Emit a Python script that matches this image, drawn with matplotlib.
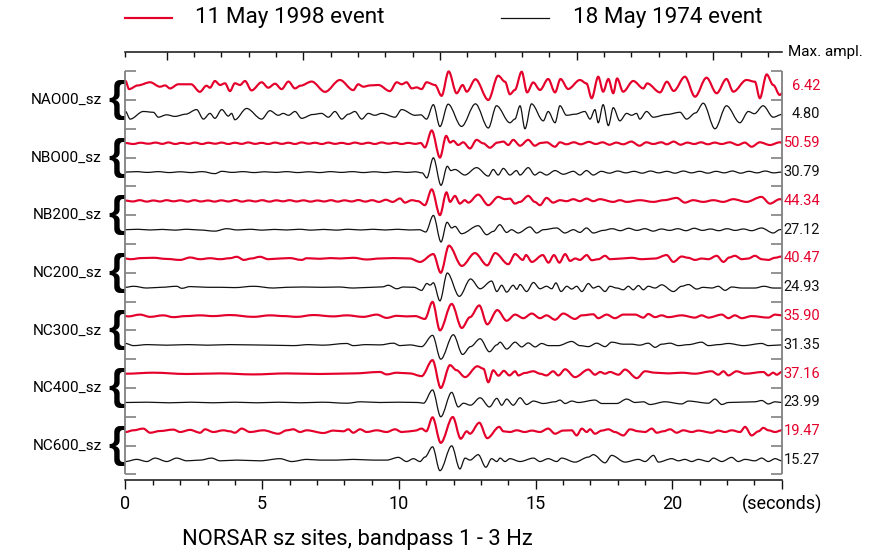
import numpy as np
import matplotlib
matplotlib.use("Agg")
import matplotlib.pyplot as plt
from matplotlib.path import Path
from matplotlib.patches import PathPatch
from matplotlib.lines import Line2D
from matplotlib.ticker import FixedLocator

plt.rcParams["font.family"] = ["Roboto", "DejaVu Sans"]

# ---------------------------------------------------------------- data
STATIONS = ["NAO00_sz", "NBO00_sz", "NB200_sz", "NC200_sz", "NC300_sz", "NC400_sz", "NC600_sz"]
EVENTS = ["11 May 1998 event", "18 May 1974 event"]
MAX_1998 = [6.42, 50.59, 44.34, 40.47, 35.90, 37.16, 19.47]
MAX_1974 = [4.80, 30.79, 27.12, 24.93, 31.35, 23.99, 15.27]
TICK_SECONDS = [0, 5, 10, 15, 20, 24]
TICK_LABELS = ["0", "5", "10", "15", "20", "(seconds)"]
TITLE = "NORSAR sz sites, bandpass 1 - 3 Hz"

# Seismogram turning points: time (s) and relative amplitude
NAO00_1998_T = [0.00,0.13,0.45,0.90,1.26,1.45,1.63,1.93,2.40,2.72,2.96,3.09,3.27,3.46,3.64,3.82,4.00,4.19,4.37,4.61,
                4.98,5.22,5.47,5.71,5.96,6.20,6.40,6.81,7.30,7.84,8.33,8.51,8.70,8.95,9.25,9.67,9.92,10.10,10.28,10.47,
                10.65,10.83,11.01,11.32,11.56,11.82,12.11,12.33,12.48,12.80,13.27,13.63,13.88,14.06,14.24,14.49,14.69,14.91,15.16,15.46,
                15.71,15.91,16.19,16.62,16.86,17.05,17.29,17.47,17.66,17.84,17.98,18.20,18.57,18.94,19.08,19.55,19.80,20.05,20.46,20.83,
                21.25,21.62,21.98,22.23,22.71,23.02,23.20,23.45,23.69,23.93,24.00]
NAO00_1998_A = [0.33,-0.24,0.02,0.24,-0.07,0.02,-0.19,0.10,0.10,-0.43,0.00,-0.14,0.33,0.05,0.17,-0.38,0.17,0.05,0.33,-0.33,
                0.24,-0.14,0.14,-0.24,0.29,-0.19,0.00,0.29,-0.43,0.40,-0.31,0.10,-0.07,0.02,0.05,-0.38,0.24,0.10,0.24,-0.19,
                -0.12,-0.24,0.24,0.05,-0.71,1.00,-0.53,0.05,-0.42,0.45,-1.00,0.70,0.28,-0.60,-0.30,0.98,-0.47,0.23,-0.30,0.47,
                -0.47,0.47,-0.23,0.40,0.16,-0.88,0.63,-0.42,0.47,-0.53,0.51,-0.42,0.33,-0.19,0.16,-0.47,0.28,-0.37,0.63,-0.77,
                0.56,-0.53,0.47,-0.42,0.40,0.28,-0.88,0.79,0.05,-0.65,-0.55]

NAO00_1974_T = [0.00,0.17,0.65,1.02,1.20,1.50,1.81,2.20,2.60,2.85,3.09,3.27,3.52,3.76,3.88,4.00,4.43,4.98,5.28,5.59,
                5.77,5.96,6.20,6.44,6.85,7.17,7.42,7.66,7.91,8.15,8.39,8.64,8.88,9.12,9.37,9.86,10.10,10.59,10.80,11.01,
                11.26,11.50,11.80,12.29,12.80,13.27,13.57,14.06,14.24,14.43,14.61,14.85,15.28,15.46,15.71,15.89,16.13,16.45,16.80,16.99,
                17.17,17.29,17.47,17.66,17.84,18.08,18.33,18.51,18.69,18.81,19.06,19.30,19.80,20.28,20.52,20.85,21.13,21.56,21.98,22.47,
                22.78,23.00,23.32,23.69,24.00]
NAO00_1974_A = [0.19,-0.29,0.19,0.14,-0.17,-0.02,-0.12,0.02,0.31,-0.29,0.07,-0.24,0.31,-0.10,0.07,-0.33,0.38,-0.29,0.24,-0.05,
                0.07,-0.05,0.19,-0.24,0.00,0.07,-0.17,0.19,-0.29,0.02,0.19,-0.29,0.07,-0.05,0.07,-0.17,0.31,-0.05,-0.02,-0.29,
                0.62,-0.76,0.65,-0.75,0.67,-0.85,0.55,-0.52,-0.29,0.55,-0.90,0.67,-0.40,0.19,-0.52,0.55,-0.05,0.02,0.19,-0.29,
                0.31,-0.52,0.62,-0.70,0.43,-0.40,0.07,-0.05,0.07,-0.29,0.19,-0.17,0.00,0.14,-0.29,0.10,0.71,-0.90,0.55,-0.52,
                0.19,0.05,0.55,-0.17,0.00]

NBO00_1998_T = [0.00,0.28,0.55,0.84,1.10,1.35,1.57,1.82,2.05,2.30,2.54,2.80,3.03,3.28,3.52,3.76,4.00,4.25,4.49,4.74,
                4.98,5.22,5.47,5.72,5.96,6.20,6.44,6.70,6.93,7.18,7.42,7.66,7.91,8.15,8.39,8.64,8.88,9.12,9.37,9.62,
                9.86,10.10,10.34,10.60,10.80,
                10.95,11.20,11.50,11.73,11.87,11.99,12.17,12.35,12.60,12.84,13.08,13.33,13.60,13.82,14.00,14.18,14.43,14.73,14.97,15.18,
                15.40,15.71,15.89,16.13,16.40,16.65,16.95,17.20,17.45,17.70,17.95,18.20,18.50,18.80,19.05,19.30,19.60,19.80,20.05,20.30,
                20.55,20.80,21.05,21.30,21.55,21.80,22.10,22.40,22.65,22.90,23.20,23.57,23.93,24.00]
NBO00_1998_A = [0.02,-0.05,0.04,-0.03,0.05,-0.04,0.06,-0.05,0.03,-0.04,0.05,-0.05,0.04,-0.03,0.05,-0.05,0.04,-0.04,0.06,-0.04,
                0.03,-0.05,0.05,-0.04,0.04,-0.05,0.06,-0.03,0.04,-0.05,0.05,-0.04,0.03,-0.05,0.05,-0.04,0.04,-0.05,0.06,-0.03,
                0.04,-0.05,0.03,-0.04,0.02,
                -0.29,0.90,-1.00,0.52,0.05,0.17,-0.12,0.07,-0.36,0.24,0.00,-0.31,0.05,0.12,-0.12,0.24,-0.17,0.24,-0.17,0.02,
                0.07,-0.24,0.07,-0.07,0.07,-0.07,0.10,-0.05,0.07,-0.10,0.05,-0.07,0.12,-0.17,0.07,-0.05,0.07,-0.07,0.12,-0.10,
                0.05,-0.05,0.07,-0.07,0.05,-0.05,0.07,-0.12,0.05,-0.24,0.07,-0.12,0.07,0.05]

NBO00_1974_T = [0.00,0.40,0.80,1.20,1.60,2.00,2.40,2.80,3.27,3.52,3.90,4.30,4.70,5.10,5.50,5.90,6.30,6.70,7.10,7.50,
                7.90,8.30,8.70,9.10,9.50,9.90,10.30,10.60,
                10.85,11.02,11.26,11.54,11.77,11.90,12.05,12.41,12.84,13.27,13.45,13.63,13.82,14.06,14.30,14.43,14.73,14.97,15.16,15.40,
                15.71,16.01,16.38,16.62,16.86,17.11,17.40,17.70,18.00,18.30,18.60,18.90,19.20,19.50,19.80,20.10,20.40,20.70,21.00,21.30,
                21.60,21.90,22.20,22.50,22.80,23.10,23.40,23.70,24.00]
NBO00_1974_A = [0.00,0.03,-0.02,0.03,-0.03,0.02,-0.03,0.03,-0.10,0.05,-0.02,0.03,-0.03,0.02,-0.02,0.03,-0.03,0.02,-0.03,0.03,
                -0.02,0.03,-0.03,0.02,-0.03,0.03,-0.02,0.02,
                -0.05,-0.38,0.93,-0.86,0.38,0.10,0.17,-0.19,0.29,-0.26,0.17,-0.19,0.24,-0.19,0.10,-0.19,0.29,-0.19,0.00,-0.19,
                0.10,-0.14,0.05,-0.19,0.10,-0.19,0.05,-0.07,0.07,-0.05,0.05,-0.07,0.07,-0.05,0.05,-0.07,0.07,-0.05,0.05,-0.07,
                0.05,-0.05,0.07,-0.07,0.05,-0.05,0.07,-0.05,0.00]

NB200_1998_T = [0.00,0.27,0.52,0.78,1.02,1.27,1.50,1.76,2.01,2.27,2.52,2.76,3.02,3.26,3.50,3.77,4.02,4.26,4.51,4.75,
                5.00,5.26,5.52,5.76,6.00,6.26,6.51,6.77,7.02,7.27,7.52,7.76,8.01,8.27,8.52,8.77,9.02,9.27,9.52,9.77,
                10.04,10.22,10.47,10.70,
                10.95,11.20,11.50,11.74,11.87,12.05,12.23,12.41,12.54,12.90,13.27,13.63,13.88,14.06,14.24,14.43,14.73,14.97,15.16,15.40,
                15.64,15.89,16.13,16.38,16.62,16.86,17.11,17.35,17.84,18.08,18.33,18.81,19.30,19.70,20.16,20.46,20.76,21.13,21.50,21.86,
                22.23,22.71,23.26,23.57,23.93,24.00]
NB200_1998_A = [0.02,-0.04,0.05,-0.05,0.03,-0.04,0.05,-0.03,0.04,-0.05,0.05,-0.04,0.03,-0.05,0.04,-0.04,0.06,-0.05,0.03,-0.04,
                0.05,-0.05,0.04,-0.03,0.05,-0.04,0.04,-0.05,0.03,-0.04,0.05,-0.05,0.04,-0.04,0.06,-0.05,0.05,-0.07,0.08,-0.07,
                0.17,-0.12,0.05,-0.02,
                -0.30,0.81,-1.00,0.60,-0.07,0.35,-0.19,0.05,-0.12,0.44,-0.30,0.28,0.12,0.16,-0.19,-0.07,0.35,-0.07,-0.30,0.21,
                -0.12,0.05,-0.02,0.12,-0.02,0.16,-0.02,0.12,-0.07,0.05,-0.07,0.05,-0.07,0.05,0.21,-0.12,0.05,-0.07,0.05,-0.07,
                0.12,-0.07,0.28,-0.19,0.12,0.10]

NB200_1974_T = [0.00,0.45,0.90,1.35,1.80,2.25,2.70,3.27,3.70,4.10,4.55,5.00,5.45,5.90,6.35,6.80,7.25,7.70,8.15,8.60,
                9.05,9.50,9.95,10.40,10.75,
                10.98,11.26,11.54,11.76,11.93,12.05,12.29,12.90,13.21,13.45,13.69,13.94,14.12,14.36,14.79,15.04,15.28,15.77,16.07,16.38,
                16.62,16.86,17.11,17.47,17.80,18.10,18.40,18.70,19.00,19.30,19.60,19.90,20.20,20.50,20.80,21.10,21.40,21.70,22.00,22.30,
                22.60,22.90,23.26,23.69,23.93,24.00]
NB200_1974_A = [0.00,0.03,-0.02,0.02,-0.03,0.03,-0.02,-0.10,0.07,-0.02,0.03,-0.03,0.02,-0.02,0.03,-0.03,0.02,-0.03,0.03,-0.02,
                0.03,-0.02,0.03,-0.02,0.00,
                -0.16,1.00,-0.86,0.52,0.12,0.23,-0.28,0.28,-0.35,-0.12,0.35,-0.19,0.00,-0.23,0.19,-0.23,0.00,0.12,-0.23,0.00,
                -0.19,0.12,-0.23,-0.05,0.07,-0.07,0.10,-0.05,0.07,-0.10,0.05,-0.05,0.07,-0.07,0.10,-0.05,0.05,-0.07,0.07,-0.05,
                0.05,-0.07,0.12,-0.23,0.00,0.02]

NC200_1998_T = [0.00,0.17,0.60,1.02,1.50,2.00,2.36,2.73,3.09,3.46,3.82,4.07,4.33,4.60,4.92,5.22,5.65,6.00,6.44,6.63,
                7.11,7.50,7.85,8.33,8.82,9.31,9.80,10.40,10.77,11.26,11.53,11.83,12.30,12.78,13.23,13.52,14.00,14.25,14.53,14.65,
                14.86,15.26,15.47,15.67,15.87,16.08,16.26,16.45,16.62,16.87,17.05,17.30,17.54,17.72,18.15,18.51,18.88,19.37,19.79,20.04,
                20.34,20.58,20.83,21.08,21.32,21.62,21.87,22.08,22.29,22.54,22.78,23.02,23.27,23.51,23.75,24.00]
NC200_1998_A = [0.00,-0.05,0.03,0.05,-0.03,-0.10,0.07,-0.05,0.02,-0.05,0.02,0.12,-0.10,0.00,0.12,-0.05,0.00,0.03,-0.10,0.02,
                -0.02,0.03,0.00,0.05,-0.07,0.00,0.03,0.00,-0.24,0.31,-1.00,0.90,-0.52,0.38,-0.48,0.38,-0.40,0.31,-0.10,0.24,
                -0.24,0.24,-0.29,0.24,-0.29,0.31,-0.17,0.00,-0.10,0.24,-0.12,-0.05,0.19,-0.05,0.00,0.05,-0.05,0.00,0.24,-0.24,
                0.14,0.05,-0.10,0.00,-0.05,0.19,-0.24,0.07,0.19,-0.05,0.00,0.19,-0.05,-0.10,0.05,0.14]

NC200_1974_T = [0.00,0.29,0.78,1.30,1.87,2.06,2.36,3.00,3.46,4.00,4.68,5.41,5.90,6.50,7.20,7.80,8.33,9.00,9.40,9.61,
                9.92,10.16,10.55,10.83,11.02,11.14,11.26,11.50,11.77,12.21,12.62,12.97,13.39,13.58,13.76,13.94,14.18,14.31,14.43,14.67,
                14.92,15.16,15.40,15.59,15.74,15.93,16.14,16.32,16.50,16.69,16.93,17.11,17.30,17.54,17.72,17.97,18.21,18.39,18.57,18.76,
                18.94,19.12,19.37,19.61,20.04,20.34,20.59,20.89,21.13,21.44,21.68,21.93,22.17,22.54,23.02,23.35,23.70,24.00]
NC200_1974_A = [0.00,0.07,-0.05,0.00,0.07,-0.07,0.05,0.00,0.00,-0.02,0.07,-0.05,0.00,0.02,0.00,0.02,-0.05,0.00,0.03,0.14,
                -0.10,0.02,0.00,-0.21,0.26,0.15,0.31,-0.93,0.98,-0.62,0.57,-0.10,0.43,-0.29,0.14,-0.33,0.14,-0.14,0.19,-0.29,
                0.33,-0.10,0.07,-0.10,0.30,-0.29,0.07,-0.12,0.07,-0.29,0.26,-0.05,0.07,-0.29,0.07,-0.05,-0.17,0.07,-0.17,0.12,
                -0.17,0.07,-0.05,0.17,-0.29,0.07,0.19,-0.12,0.00,-0.05,0.07,-0.21,0.02,-0.05,-0.05,0.07,-0.05,-0.05]

NC300_1998_T = [0.00,0.10,0.53,0.90,1.38,1.75,2.20,2.73,3.20,3.82,4.68,5.29,5.80,6.26,6.87,7.60,8.09,8.70,9.19,9.55,
                9.92,10.28,10.60,10.95,11.23,11.50,11.93,12.30,12.60,12.94,13.23,13.60,13.94,14.25,14.55,14.86,15.16,15.40,15.71,16.01,
                16.44,16.69,17.11,17.29,17.60,17.90,18.21,18.64,18.94,19.12,19.37,19.61,19.85,20.34,20.83,21.07,21.32,21.81,22.05,22.29,
                22.54,22.90,23.51,23.76,24.00]
NC300_1998_A = [0.00,-0.02,0.10,-0.05,0.05,-0.07,0.00,0.05,0.00,0.07,-0.05,0.05,0.00,-0.05,0.07,-0.02,0.05,-0.05,0.10,-0.12,
                0.02,-0.02,0.00,-0.19,0.95,-0.95,0.81,-0.79,-0.07,0.71,-0.55,0.40,-0.31,0.10,-0.14,0.17,-0.14,0.05,-0.24,0.17,
                -0.19,0.05,0.12,-0.14,0.10,-0.14,0.10,0.10,-0.10,0.14,-0.07,0.05,-0.07,0.05,-0.10,0.05,-0.10,0.10,-0.14,0.05,
                -0.14,0.00,-0.10,0.10,0.05]

NC300_1974_T = [0.00,0.29,0.80,1.50,2.30,3.00,3.80,4.60,5.30,6.14,6.70,7.20,8.09,8.33,8.80,9.30,9.80,10.04,10.40,10.83,
                11.23,11.53,11.99,12.33,12.62,12.97,13.31,13.58,13.70,13.94,14.25,14.49,14.73,14.98,15.22,15.47,15.83,16.32,16.62,16.93,
                17.23,17.54,17.78,18.21,18.51,18.80,19.12,19.37,19.61,19.92,20.22,20.60,21.07,21.32,21.70,22.05,22.60,23.27,23.51,24.00]
NC300_1974_A = [0.10,-0.05,0.02,-0.02,0.02,-0.02,0.02,0.00,-0.02,-0.05,0.02,-0.02,0.10,-0.05,0.02,0.00,0.12,-0.05,0.00,-0.12,
                0.67,-1.00,0.71,-0.67,-0.12,0.43,-0.48,0.00,0.19,-0.29,0.19,-0.14,0.14,-0.14,0.10,-0.05,-0.05,0.24,-0.05,-0.12,
                0.12,-0.12,0.19,0.05,0.05,-0.02,0.12,-0.17,0.05,0.12,-0.05,0.02,0.19,-0.05,0.02,0.10,-0.05,0.10,-0.05,0.00]

NC400_1998_T = [0.00,1.02,2.24,3.46,4.68,5.90,7.11,8.33,9.31,9.55,9.92,10.40,10.83,11.23,11.53,11.87,12.10,12.42,12.87,13.09,
                13.27,13.45,13.64,13.84,14.04,14.25,14.37,14.60,14.92,15.16,15.40,15.64,15.83,16.08,16.44,16.93,17.17,17.36,17.54,17.72,
                18.03,18.27,18.70,19.00,19.37,19.85,20.34,20.83,21.44,21.68,21.87,22.05,22.35,22.66,23.33,23.51,23.69,23.82,24.00]
NC400_1998_A = [0.00,0.07,-0.02,0.02,-0.05,0.02,-0.02,0.02,0.12,-0.05,0.07,0.02,-0.17,0.95,-1.00,0.60,0.25,-0.24,0.52,0.35,
                -0.60,0.24,-0.14,0.20,-0.12,0.17,-0.12,0.05,0.17,0.00,-0.12,0.17,-0.12,0.31,-0.24,0.29,-0.07,0.12,0.00,0.12,
                -0.07,0.29,-0.31,0.17,0.07,0.02,0.07,0.00,0.17,-0.07,0.17,-0.12,0.17,0.00,0.12,-0.12,0.07,-0.07,0.12]

NC400_1974_T = [0.00,0.80,1.60,2.40,3.20,4.00,4.80,5.60,6.40,7.20,8.10,8.60,9.30,10.00,10.70,10.90,11.23,11.53,11.93,12.17,
                12.36,12.62,12.97,13.31,13.58,13.76,13.94,14.18,14.43,14.67,14.92,15.28,15.71,15.89,16.08,16.32,16.56,17.17,17.42,17.97,
                18.33,18.64,18.94,19.18,19.73,20.34,20.59,21.32,21.56,21.81,22.05,23.02,23.27,23.51,23.76,24.00]
NC400_1974_A = [0.00,0.02,-0.02,0.02,-0.02,0.02,-0.02,0.02,-0.02,0.02,-0.05,0.05,0.00,0.02,0.00,-0.05,0.88,-1.00,0.71,-0.31,
                -0.05,-0.19,0.33,-0.31,0.29,-0.19,0.24,-0.19,0.33,-0.14,0.10,-0.07,0.05,0.17,-0.07,0.10,0.00,0.17,-0.07,-0.07,
                0.24,0.00,0.05,-0.14,0.05,-0.10,0.10,-0.05,0.24,-0.14,0.00,0.05,0.14,-0.10,0.05,0.00]

NC600_1998_T = [0.00,0.29,0.65,0.90,1.26,1.75,2.00,2.36,2.73,2.91,3.21,3.58,3.82,4.00,4.25,4.55,5.04,5.59,5.90,6.14,
                6.38,6.63,7.24,7.60,7.97,8.15,8.33,8.58,8.82,9.19,9.55,9.86,10.10,10.40,10.60,10.83,11.00,11.23,11.53,11.97,
                12.26,12.48,12.60,12.94,13.23,13.67,13.82,14.06,14.31,14.60,14.86,15.16,15.46,15.71,16.00,16.32,16.50,16.69,16.87,16.99,
                17.17,17.42,17.66,17.90,18.21,18.45,18.76,19.00,19.25,19.43,19.67,19.92,20.16,20.40,20.71,20.95,21.44,21.68,21.93,22.17,
                22.48,22.66,22.90,23.15,23.33,23.51,23.76,24.00]
NC600_1998_A = [-0.05,0.07,0.19,-0.10,0.02,0.12,-0.05,0.10,-0.10,0.14,-0.05,0.07,0.00,-0.10,0.19,-0.05,0.07,-0.17,0.07,0.14,
                -0.05,0.07,-0.12,0.05,0.00,0.14,-0.10,0.14,-0.05,0.07,-0.05,0.14,-0.05,0.00,0.05,0.19,0.00,0.98,-0.81,1.00,
                -0.52,0.00,-0.17,0.60,-0.48,0.31,0.00,-0.05,0.07,-0.05,0.05,-0.05,0.19,-0.17,0.05,0.07,-0.29,0.19,-0.05,0.14,
                -0.17,0.05,0.14,-0.05,-0.29,0.14,0.00,-0.05,0.19,-0.10,0.00,0.14,-0.10,0.07,-0.05,0.05,-0.10,0.05,-0.05,0.07,
                -0.05,0.31,-0.29,0.00,0.24,0.07,-0.05,0.07]

NC600_1974_T = [0.00,0.41,0.78,1.08,1.51,1.87,2.24,2.73,3.15,3.46,4.07,4.92,5.65,6.08,6.63,7.11,7.72,8.33,9.06,9.55,
                9.98,10.28,10.53,10.77,10.95,11.23,11.50,11.93,12.23,12.42,12.60,12.90,13.18,13.39,13.58,13.70,13.88,14.06,14.43,14.92,
                15.16,15.46,15.77,15.95,16.44,16.93,17.11,17.54,17.78,18.27,18.76,19.00,19.31,19.49,19.98,20.22,20.46,20.71,20.95,21.32,
                21.50,21.81,22.17,22.41,22.66,23.02,23.27,23.51,23.76,24.00]
NC600_1974_A = [-0.10,0.05,-0.10,0.14,-0.10,0.14,-0.05,0.00,0.14,-0.05,0.00,-0.05,0.10,-0.10,0.05,0.00,0.00,0.05,0.00,0.00,
                0.19,-0.10,0.10,-0.10,0.21,0.93,-0.74,1.00,-0.62,0.14,0.00,0.38,-0.50,0.10,-0.10,0.14,-0.10,0.10,-0.10,0.14,
                -0.10,0.10,-0.10,0.14,-0.14,0.21,0.38,-0.19,0.33,-0.14,0.05,-0.10,0.33,-0.14,0.10,-0.05,0.05,-0.10,0.05,-0.10,
                0.14,-0.10,0.19,-0.10,0.05,-0.05,0.14,-0.10,0.10,-0.05]

TRACES_1998 = [(NAO00_1998_T, NAO00_1998_A), (NBO00_1998_T, NBO00_1998_A), (NB200_1998_T, NB200_1998_A),
               (NC200_1998_T, NC200_1998_A), (NC300_1998_T, NC300_1998_A), (NC400_1998_T, NC400_1998_A),
               (NC600_1998_T, NC600_1998_A)]
TRACES_1974 = [(NAO00_1974_T, NAO00_1974_A), (NBO00_1974_T, NBO00_1974_A), (NB200_1974_T, NB200_1974_A),
               (NC200_1974_T, NC200_1974_A), (NC300_1974_T, NC300_1974_A), (NC400_1974_T, NC400_1974_A),
               (NC600_1974_T, NC600_1974_A)]

# ---------------------------------------------------------------- style
RED = "#e4002b"
BLACK = "#111111"
FRAME = "#808080"
W, H = 887, 554
X0, X1 = 125.5, 781.7          # pixel columns of t = 0 s and t = 24 s
Y_TOP, Y_BOT = 52.0, 480.0     # pixel rows of the two time axes
FIRST_ROW, ROW_STEP = 85.7, 28.8
GAIN = 14.3                    # pixel deflection of a trace's maximum


def fx(px):
    return px / W


def fy(py):
    return 1.0 - py / H


def trace_patch(t, y, color, lw):
    """Smooth trace through turning points with horizontal tangents."""
    verts = [(t[0], y[0])]
    codes = [Path.MOVETO]
    for i in range(1, len(t)):
        dt = t[i] - t[i - 1]
        verts += [(t[i - 1] + dt / 3.0, y[i - 1]), (t[i] - dt / 3.0, y[i]), (t[i], y[i])]
        codes += [Path.CURVE4] * 3
    return PathPatch(Path(verts, codes), fill=False, edgecolor=color, lw=lw,
                     joinstyle="round", capstyle="round", clip_on=False)


fig = plt.figure(figsize=(W / 100, H / 100), dpi=100)
ax = fig.add_axes([fx(X0), fy(Y_BOT), (X1 - X0) / W, (Y_BOT - Y_TOP) / H])
ax.set_xlim(0, 24)
ax.set_ylim(Y_BOT, Y_TOP)
ax.set_yticks([])
for side in ("left", "right"):
    ax.spines[side].set_visible(False)
for side in ("top", "bottom"):
    ax.spines[side].set_linewidth(1.1)
    ax.spines[side].set_color("#111111")

# bottom time axis
ax.xaxis.set_major_locator(FixedLocator(TICK_SECONDS))
ax.xaxis.set_minor_locator(FixedLocator(np.arange(0, 25, 1)))
ax.set_xticklabels(TICK_LABELS)
ax.tick_params(axis="x", which="major", direction="out", length=6.5, width=1.0,
               labelsize=13, pad=4, top=False, color="#111111")
ax.tick_params(axis="x", which="minor", direction="out", length=3.6, width=1.0,
               top=False, color="#111111")

# top time axis (ticks hanging from the line)
top_major = [1.5, 6.5, 11.5, 16.5, 21.5]
top_minor = [0.0] + [v + 0.5 for v in range(2, 24) if (v + 0.5) not in top_major]
ax.vlines(top_major, Y_TOP, Y_TOP + 8.5, color="#111111", lw=1.0, clip_on=False)
ax.vlines(top_minor, Y_TOP, Y_TOP + 5, color="#111111", lw=1.0, clip_on=False)
fig.text(fx(788), fy(Y_TOP), "Max. ampl.", ha="left", va="center", fontsize=11)

# grey station frames with half-row ticks
frame_top = FIRST_ROW - ROW_STEP / 2
frame_bot = FIRST_ROW + 13 * ROW_STEP + ROW_STEP / 2
tick_rows = [frame_top + j * ROW_STEP for j in range(15)]
tick_len = 0.4
for x, sgn in ((0.0, 1), (24.0, -1)):
    ax.plot([x, x], [frame_top, frame_bot], color=FRAME, lw=1.3, clip_on=False,
            solid_capstyle="butt")
    ax.hlines(tick_rows, x, x + sgn * tick_len, color=FRAME, lw=1.2, clip_on=False)

# traces
for k, name in enumerate(STATIONS):
    for j, (traces, maxima, color, lw) in enumerate(
            ((TRACES_1998, MAX_1998, RED, 1.55), (TRACES_1974, MAX_1974, BLACK, 0.9))):
        t, a = traces[k]
        t = np.asarray(t, float)
        a = np.asarray(a, float)
        counts = a / np.abs(a).max() * maxima[k]
        peak = np.abs(counts).max()
        base = FIRST_ROW + (2 * k + j) * ROW_STEP
        ax.add_patch(trace_patch(t, base - counts / peak * GAIN, color, lw))
        fig.text(fx(820), fy(base), f"{peak:.2f}", ha="right", va="center",
                 fontsize=10.5, color=color)
    mid = FIRST_ROW + (2 * k + 0.5) * ROW_STEP
    fig.text(fx(102), fy(mid), name, ha="right", va="center", fontsize=11)
    fig.text(fx(116), fy(mid), "{", ha="center", va="center", fontsize=30,
             fontweight="bold", family=["Liberation Sans", "DejaVu Sans"])

# legend
for (x_a, x_b, x_t), label, color, lw in (((125, 172, 195), EVENTS[0], RED, 1.55),
                                          ((501, 549, 573), EVENTS[1], BLACK, 0.9)):
    fig.add_artist(Line2D([fx(x_a), fx(x_b)], [fy(18), fy(18)], color=color, lw=lw))
    fig.text(fx(x_t), fy(18), label, ha="left", va="center", fontsize=16.2)

fig.text(fx(182), fy(540), TITLE, ha="left", va="center", fontsize=15.8)

fig.savefig("out.png", dpi=100)
